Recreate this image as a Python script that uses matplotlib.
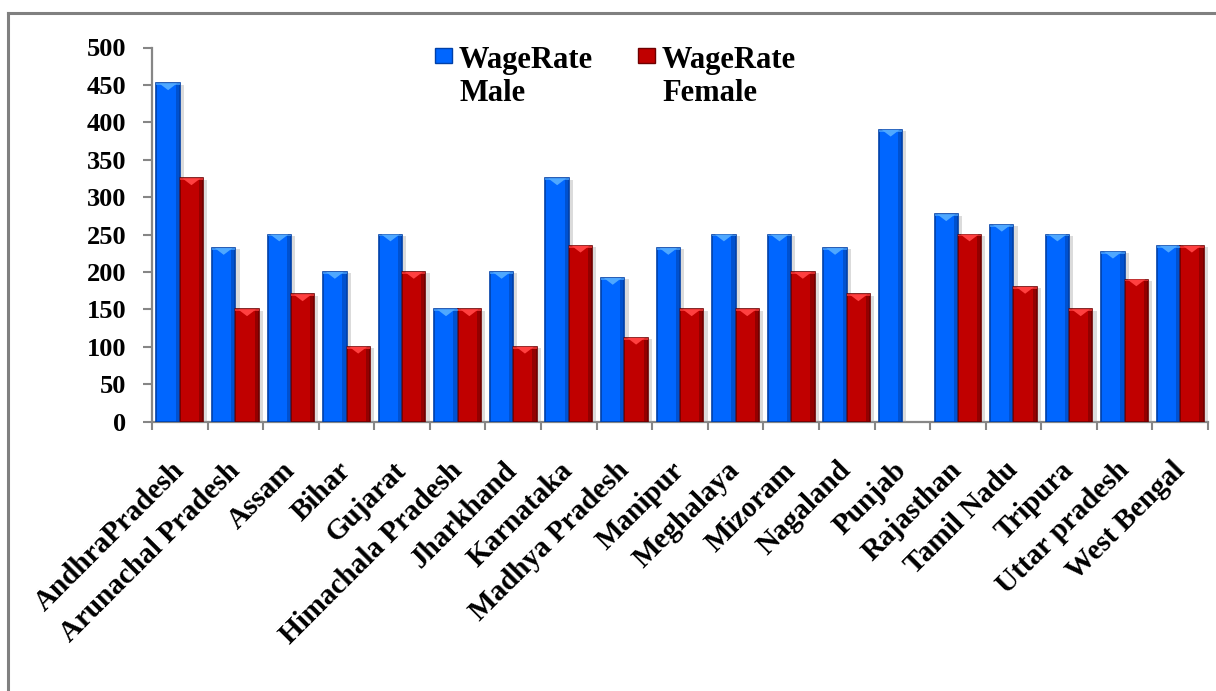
import matplotlib
matplotlib.use("Agg")
import matplotlib.pyplot as plt
import numpy as np
from matplotlib.patches import Rectangle, Polygon
from matplotlib.lines import Line2D
import matplotlib.patheffects as pe

states = ["AndhraPradesh", "Arunachal Pradesh", "Assam", "Bihar", "Gujarat",
          "Himachala Pradesh", "Jharkhand", "Karnataka", "Madhya Pradesh",
          "Manipur", "Meghalaya", "Mizoram", "Nagaland", "Punjab",
          "Rajasthan", "Tamil Nadu", "Tripura", "Uttar pradesh", "West Bengal"]
wage_male = [452, 232, 250, 200, 250, 150, 200, 325, 192, 232, 250, 250,
             232, 390, 277, 263, 250, 227, 235]
wage_female = [325, 150, 170, 100, 200, 150, 100, 235, 112, 150, 150, 200,
               170, 0, 250, 180, 150, 190, 235]
series_names = ["WageRate\nMale", "WageRate\nFemale"]
yticks = [0, 50, 100, 150, 200, 250, 300, 350, 400, 450, 500]

W, H = 1216, 691
fig = plt.figure(figsize=(W / 100, H / 100), dpi=100)
ax = fig.add_axes([152 / W, 1 - 421.7 / H, (1208 - 152) / W, (421.7 - 47.5) / H])
ax.patch.set_alpha(0)

serif = "Liberation Serif"
x = np.arange(len(states))
bw = 0.42
shadow = [pe.SimplePatchShadow(offset=(3, -1), shadow_rgbFace="#9a9a9a", alpha=0.35), pe.Normal()]

def draw(vals, offset, face, edge, light):
    bars = ax.bar(x + offset, vals, bw, color=face, edgecolor=edge, linewidth=1.2, zorder=3)
    for b in bars:
        h = b.get_height()
        if h <= 0:
            b.set_linewidth(0)
            continue
        b.set_path_effects(shadow)
        x0 = b.get_x()
        w = b.get_width()
        # darker right strip
        ax.add_patch(Rectangle((x0 + w * 0.82, 0), w * 0.18, h, color=edge, alpha=0.55, zorder=4, lw=0))
        # top highlight chevron
        ax.add_patch(Polygon([(x0 + w * 0.12, h), (x0 + w * 0.88, h), (x0 + w * 0.5, h - 9)],
                             closed=True, color=light, zorder=5, lw=0))
        ax.add_patch(Rectangle((x0, h - 2.5), w, 2.5, color=light, alpha=0.7, zorder=5, lw=0))
    return bars

draw(wage_male, -bw / 2, "#0066FF", "#0040A8", "#4FA8FF")
draw(wage_female, bw / 2, "#C00000", "#6E0000", "#FF4040")

ax.set_xlim(-0.5, len(states) - 0.5)
ax.set_ylim(0, 500)
ax.set_yticks(yticks)
ax.set_yticklabels([str(v) for v in yticks], fontfamily=serif, fontweight="bold", fontsize=19)
ax.tick_params(axis="y", direction="out", length=6.5, width=1.5, color="#868686", pad=12)

ax.set_xticks(x)
ax.set_xticklabels(states, fontfamily=serif, fontweight="bold", fontsize=21,
                   rotation=45, ha="right", va="center", rotation_mode="anchor")
ax.tick_params(axis="x", which="major", length=0, pad=32)
ax.set_xticks(np.arange(len(states) + 1) - 0.5, minor=True)
ax.tick_params(axis="x", which="minor", direction="out", length=6, width=1.5, color="#868686")

for s in ["top", "right"]:
    ax.spines[s].set_visible(False)
for s in ["left", "bottom"]:
    ax.spines[s].set_color("#868686")
    ax.spines[s].set_linewidth(1.6)

# legend (manual)
leg = [(435, "#0066FF", "#0040A8", 459), (638, "#C00000", "#6E0000", 662)]
for (px, face, edge, tx), name in zip(leg, series_names):
    fig.add_artist(Rectangle((px / W, 1 - 63 / H), 17 / W, 15 / H, transform=fig.transFigure,
                             facecolor=face, edgecolor=edge, lw=1, zorder=10))
    fig.text(tx / W, 1 - 46 / H, name, fontfamily=serif, fontweight="bold", fontsize=22,
             ha="left", va="top", linespacing=1.2, zorder=10)

# outer border
fig.add_artist(Line2D([8 / W, 1], [1 - 13 / H, 1 - 13 / H], transform=fig.transFigure,
                      color="#808080", lw=2.2, zorder=10))
fig.add_artist(Line2D([8 / W, 8 / W], [0, 1 - 13 / H], transform=fig.transFigure,
                      color="#808080", lw=2.2, zorder=10))

fig.savefig("out.png", dpi=100, facecolor="white")
